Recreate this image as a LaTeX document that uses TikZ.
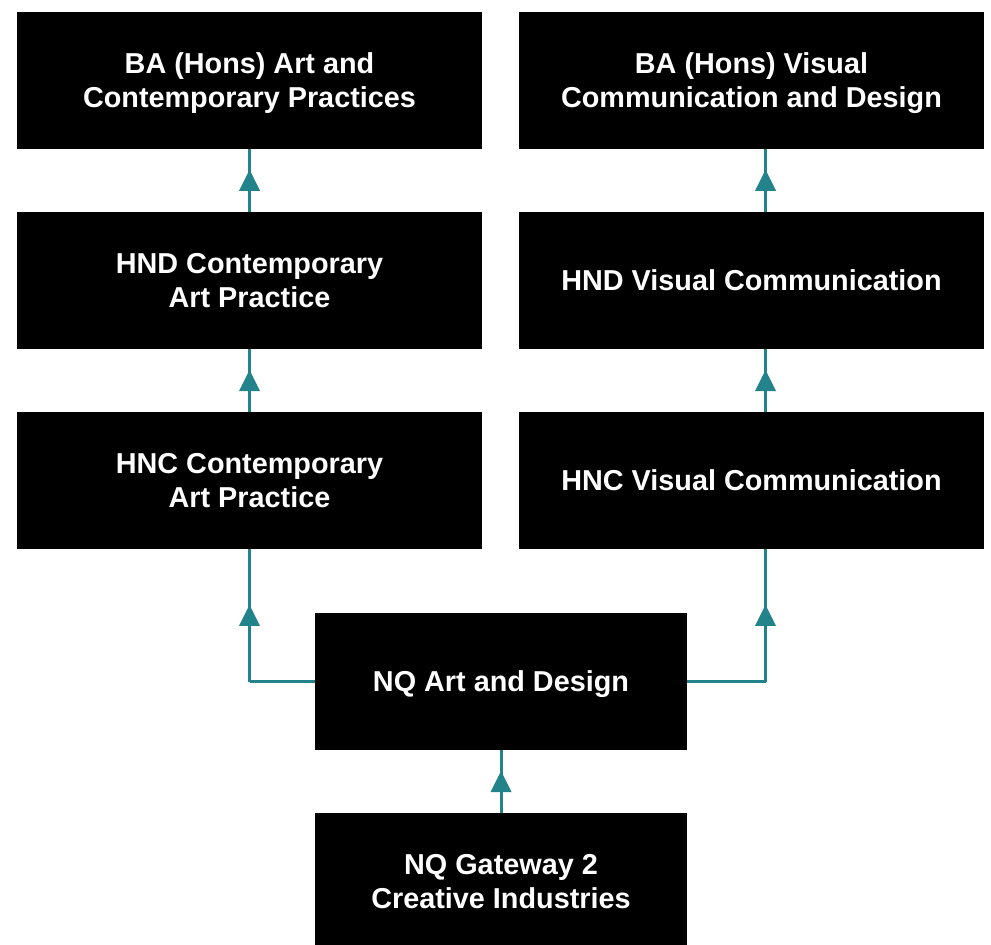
\documentclass[tikz,border=0pt]{standalone}
\usepackage{fontspec}
\setmainfont{Liberation Sans}
\usetikzlibrary{decorations.markings,calc}
\definecolor{linkteal}{HTML}{23838A}
\tikzset{
  prog/.style={fill=black, text=white, minimum width=465pt, minimum height=137pt,
    inner sep=0pt, align=center, text depth=0pt, font=\fontsize{28.8}{34}\selectfont\bfseries},
  nqbox/.style={prog, minimum width=372pt},
  link/.style={draw=linkteal, line width=3pt},
  midarrow/.style={link, postaction={decorate}, decoration={markings,
    mark=at position 0.5 with {\fill[linkteal] (10.5,0) -- (-10.5,10.5) -- (-10.5,-10.5) -- cycle;}}}
}
\begin{document}
\begin{tikzpicture}[x=1pt,y=-1pt]
\useasboundingbox (0,0) rectangle (991,945);
% boxes
\node[prog] (baL) at (249.5,80) {BA (Hons) Art and\\Contemporary Practices};
\node[prog] (baR) at (751.5,80) {BA (Hons) Visual\\Communication and Design};
\node[prog] (hndL) at (249.5,280.5) {HND Contemporary\\Art Practice};
\node[prog] (hndR) at (751.5,280.5) {HND Visual Communication};
\node[prog] (hncL) at (249.5,480.5) {HNC Contemporary\\Art Practice};
\node[prog] (hncR) at (751.5,480.5) {HNC Visual Communication};
\node[nqbox] (nqad) at (501,681.5) {NQ Art and Design};
\node[nqbox] (gate) at (501,881.5) {NQ Gateway 2\\Creative Industries};
% connectors
\draw[midarrow] (gate.north) -- (nqad.south);
\coordinate (cL) at (hncL.south |- nqad.west);
\draw[link] (nqad.west) -- (cL);
\draw[midarrow] (cL) -- (hncL.south);
\draw[midarrow] (hncL.north) -- (hndL.south);
\draw[midarrow] (hndL.north) -- (baL.south);
\coordinate (rB) at ([xshift=14pt]hncR.south);
\coordinate (cR) at (rB |- nqad.east);
\draw[link] (nqad.east) -- (cR);
\draw[midarrow] (cR) -- (rB);
\draw[midarrow] ([xshift=14pt]hncR.north) -- ([xshift=14pt]hndR.south);
\draw[midarrow] ([xshift=14pt]hndR.north) -- ([xshift=14pt]baR.south);
\end{tikzpicture}
\end{document}
